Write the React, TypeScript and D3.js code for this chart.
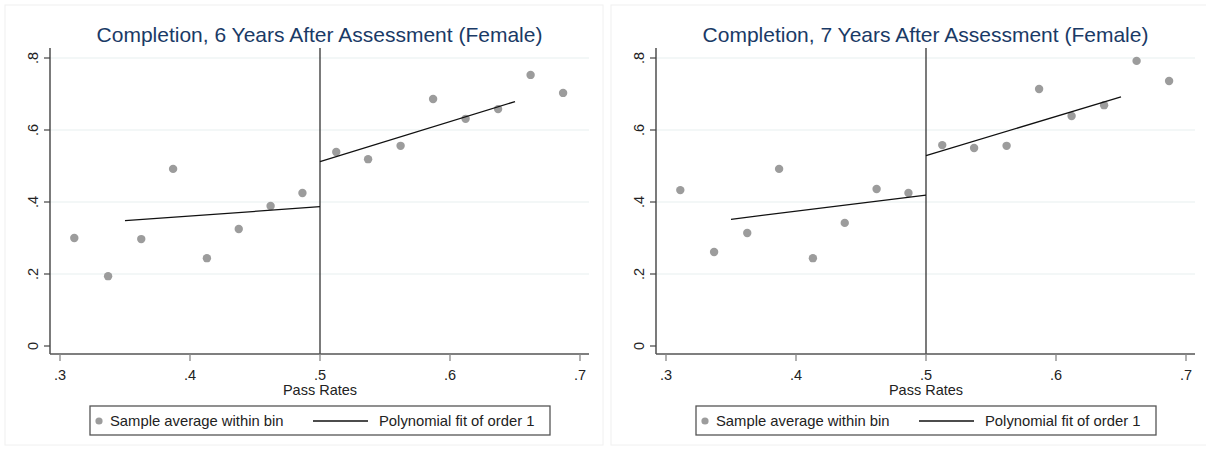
import React from "react";
import * as d3 from "d3";

// Bin midpoints of the running variable (pass rate)
const binX = [0.311, 0.337, 0.3625, 0.387, 0.413, 0.4375, 0.462, 0.4865, 0.5125, 0.537, 0.562, 0.587, 0.612, 0.637, 0.662, 0.687];

// Sample averages of completion within each bin
const completion6 = [0.3, 0.194, 0.297, 0.492, 0.244, 0.325, 0.389, 0.425, 0.539, 0.519, 0.556, 0.686, 0.631, 0.658, 0.753, 0.703];
const completion7 = [0.433, 0.261, 0.314, 0.492, 0.244, 0.342, 0.436, 0.425, 0.558, 0.55, 0.556, 0.714, 0.639, 0.669, 0.792, 0.736];

// Linear fits on either side of the cutoff: [x0, y0, x1, y1]
const fit6 = [
  [0.35, 0.348, 0.5, 0.387],
  [0.5, 0.512, 0.65, 0.679],
];
const fit7 = [
  [0.35, 0.352, 0.5, 0.419],
  [0.5, 0.529, 0.65, 0.692],
];

const xTicks = [0.3, 0.4, 0.5, 0.6, 0.7];
const yTicks = [0, 0.2, 0.4, 0.6, 0.8];
const cutoff = 0.5;

const titles = [
  "Completion, 6 Years After Assessment (Female)",
  "Completion, 7 Years After Assessment (Female)",
];

const FONT = "'Liberation Sans', Arial, sans-serif";
const fmt = (v: number) => (v === 0 ? "0" : d3.format(".1f")(v).replace(/^0/, ""));

function Panel({ ox, title, ys, fits }: { ox: number; title: string; ys: number[]; fits: number[][] }) {
  const left = 50, right = 589, top = 48, bottom = 354;
  const x = d3.scaleLinear().domain([0.3, 0.7]).range([60, 580]);
  const y = d3.scaleLinear().domain([0, 0.8]).range([346, 58]);
  const line = d3.line<[number, number]>().x((d) => x(d[0])).y((d) => y(d[1]));
  const cx = (left + right) / 2;
  return (
    <g transform={`translate(${ox},0)`}>
      <rect x={5} y={5} width={598} height={440} fill="#fff" stroke="#f0f0f0" strokeWidth={1} />
      <text x={cx} y={42} textAnchor="middle" fontSize={21} fill="#1a3a66" fontFamily={FONT}>
        {title}
      </text>
      {/* grid */}
      {yTicks.filter((t) => t > 0).map((t) => (
        <line key={t} x1={left} x2={right} y1={y(t)} y2={y(t)} stroke="#e8f0f0" strokeWidth={1.2} />
      ))}
      {/* cutoff */}
      <line x1={x(cutoff)} x2={x(cutoff)} y1={top} y2={bottom} stroke="#333" strokeWidth={1.3} />
      {/* points */}
      {binX.map((bx, i) => (
        <circle key={i} cx={x(bx)} cy={y(ys[i])} r={4.2} fill="#9c9c9c" />
      ))}
      {/* fits */}
      {fits.map((f, i) => (
        <path key={i} d={line([[f[0], f[1]], [f[2], f[3]]]) ?? ""} stroke="#111" strokeWidth={1.3} fill="none" />
      ))}
      {/* axes */}
      <line x1={left} x2={left} y1={top} y2={bottom} stroke="#333" strokeWidth={1.3} />
      <line x1={left} x2={right} y1={bottom} y2={bottom} stroke="#555" strokeWidth={1.3} />
      {yTicks.map((t) => (
        <g key={t}>
          <line x1={left - 6} x2={left} y1={y(t)} y2={y(t)} stroke="#444" strokeWidth={1.2} />
          <text
            transform={`translate(${left - 12},${y(t)}) rotate(-90)`}
            textAnchor="middle"
            fontSize={14.5}
            fill="#222"
            fontFamily={FONT}
          >
            {fmt(t)}
          </text>
        </g>
      ))}
      {xTicks.map((t) => (
        <g key={t}>
          <line x1={x(t)} x2={x(t)} y1={bottom} y2={bottom + 7} stroke="#888" strokeWidth={1.3} />
          <text x={x(t)} y={bottom + 26} textAnchor="middle" fontSize={14.5} fill="#222" fontFamily={FONT}>
            {fmt(t)}
          </text>
        </g>
      ))}
      <text x={x(cutoff)} y={395} textAnchor="middle" fontSize={14.5} fill="#222" fontFamily={FONT}>
        Pass Rates
      </text>
      {/* legend */}
      <rect x={90} y={406} width={460} height={29} fill="#fff" stroke="#555" strokeWidth={1.3} />
      <circle cx={99} cy={421} r={3.6} fill="#9c9c9c" />
      <text x={110} y={426} fontSize={14.8} fill="#222" fontFamily={FONT}>
        Sample average within bin
      </text>
      <line x1={313} x2={368} y1={421} y2={421} stroke="#111" strokeWidth={1.3} />
      <text x={379} y={426} fontSize={14.8} fill="#222" fontFamily={FONT}>
        Polynomial fit of order 1
      </text>
    </g>
  );
}

export default function App() {
  return (
    <svg
      width={1206}
      height={449}
      style={{ position: "absolute", left: 0, top: 0, display: "block", background: "#fff" }}
    >
      <rect width={1206} height={449} fill="#fff" />
      <Panel ox={0} title={titles[0]} ys={completion6} fits={fit6} />
      <Panel ox={606} title={titles[1]} ys={completion7} fits={fit7} />
    </svg>
  );
}
